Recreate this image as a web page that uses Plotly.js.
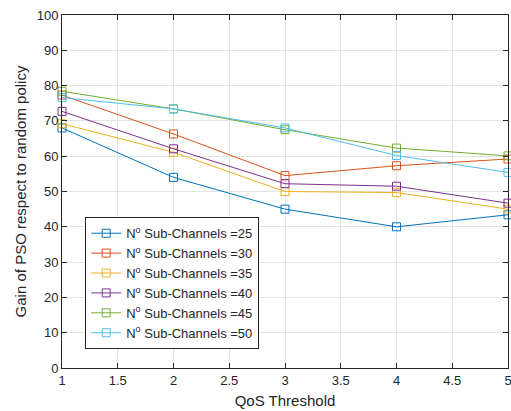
<!DOCTYPE html>
<html><head><meta charset="utf-8">
<script src="https://cdn.plot.ly/plotly-3.0.1.min.js"></script>
<style>html,body{margin:0;padding:0;background:#fff}#chart{width:511px;height:411px}</style>
</head><body><div id="chart"></div>
<script>
const qos = [1, 2, 3, 4, 5];
const seriesNames = ["N<sup>o</sup> Sub-Channels =25","N<sup>o</sup> Sub-Channels =30","N<sup>o</sup> Sub-Channels =35","N<sup>o</sup> Sub-Channels =40","N<sup>o</sup> Sub-Channels =45","N<sup>o</sup> Sub-Channels =50"];
const ch25 = [68.0, 54.0, 45.0, 40.0, 43.4];
const ch30 = [77.3, 66.3, 54.5, 57.3, 59.2];
const ch35 = [69.2, 61.1, 50.0, 49.7, 45.0];
const ch40 = [72.7, 62.1, 52.2, 51.5, 46.7];
const ch45 = [78.4, 73.4, 67.5, 62.3, 60.1];
const ch50 = [76.6, 73.4, 68.0, 60.2, 55.4];
const colors = ["#0072BD","#D95319","#EDB120","#7E2F8E","#77AC30","#4DBEEE"];
const all = [ch25, ch30, ch35, ch40, ch45, ch50];
const traces = all.map((ys, i) => ({
  x: qos, y: ys, name: seriesNames[i], type: 'scatter', mode: 'lines+markers',
  line: {color: colors[i], width: 1},
  marker: {symbol: 'square-open', size: 8, color: colors[i], line: {width: 1}},
  cliponaxis: false
}));
const axisCommon = {
  showline: true, mirror: 'ticks', linecolor: '#262626', linewidth: 1,
  ticks: 'inside', ticklen: 5, tickcolor: '#262626',
  showgrid: true, gridcolor: '#e3e3e3', zeroline: false,
  ticklabeloverflow: 'allow',
  tickfont: {family: 'Liberation Sans, Arial, sans-serif', size: 13, color: '#262626'}
};
const layout = {
  width: 511, height: 411,
  margin: {l: 62, r: 3, t: 15, b: 43},
  paper_bgcolor: '#fff', plot_bgcolor: '#fff',
  font: {family: 'Liberation Sans, Arial, sans-serif', color: '#262626'},
  xaxis: Object.assign({}, axisCommon, {range: [1, 5], dtick: 0.5,
    title: {text: 'QoS Threshold', font: {size: 15, color: '#262626'}, standoff: 8}}),
  yaxis: Object.assign({}, axisCommon, {range: [0, 100], dtick: 10,
    title: {text: 'Gain of PSO respect to random policy', font: {size: 15, color: '#262626'}, standoff: 6}}),
  showlegend: true,
  legend: {x: 0.052, y: 0.427, xanchor: 'left', yanchor: 'top',
    bgcolor: '#fff', bordercolor: '#262626', borderwidth: 1,
    font: {size: 13, color: '#262626'}, tracegroupgap: 0}
};
Plotly.newPlot('chart', traces, layout, {displayModeBar: false, staticPlot: true});
</script></body></html>
